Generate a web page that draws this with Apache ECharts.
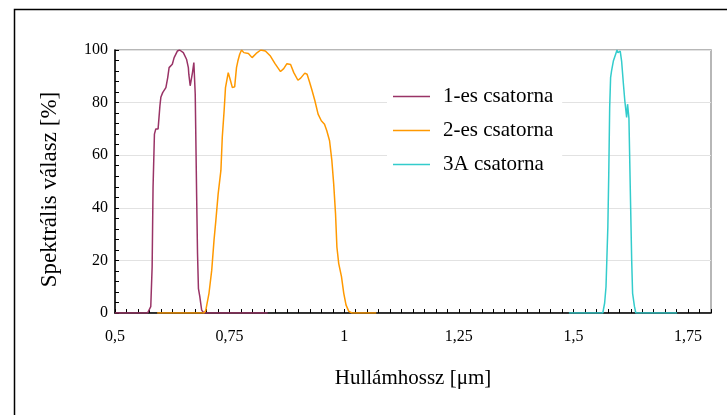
<!DOCTYPE html>
<html>
<head>
<meta charset="utf-8">
<script src="https://cdn.jsdelivr.net/npm/echarts@6/dist/echarts.min.js"></script>
<style>html,body{margin:0;padding:0;background:#fff}#c{width:727px;height:415px}</style>
</head>
<body>
<div id="c"></div>
<script>
// Channel 1 (1-es csatorna)
const ch1X = [0.5,0.571,0.578,0.581,0.583,0.586,0.589,0.594,0.596,0.598,0.600,0.604,0.611,0.615,0.618,0.625,0.629,0.636,0.641,0.649,0.656,0.660,0.661,0.664,0.667,0.669,0.672,0.674,0.675,0.678,0.680,0.682,0.685,0.689,0.694,0.833];
const ch1Y = [0,0,2.4,17.5,47.8,68,70,70,74.4,78.8,82,83.8,85.7,89.5,93.3,94.6,97.1,99.6,100,99,96.5,93.3,90.8,86.4,85.7,91.4,95.2,94.6,83.2,45.3,22.6,9.3,6.2,1.1,0,0];
// Channel 2 (2-es csatorna)
const ch2X = [0.592,0.694,0.698,0.705,0.711,0.716,0.720,0.725,0.731,0.734,0.738,0.741,0.747,0.752,0.756,0.761,0.765,0.768,0.772,0.776,0.781,0.791,0.799,0.808,0.818,0.828,0.839,0.849,0.861,0.868,0.875,0.883,0.890,0.899,0.905,0.914,0.919,0.924,0.930,0.936,0.943,0.950,0.957,0.962,0.968,0.973,0.977,0.981,0.984,0.988,0.994,0.999,1.004,1.010,1.017,1.07];
const ch2Y = [0,0,1,7.5,16.3,27.7,35.2,45.3,54.2,66.8,76.9,85.7,91.4,88.3,85.7,86,93.3,95.8,98.4,100,99,98.7,97.1,98.7,100,99.6,97.7,94.8,91.8,92.9,94.8,94.5,91.4,88.5,89.3,91.2,90.8,88,84.5,80.7,75.6,73.1,71.8,69.3,65.5,58,49.1,37.8,25.1,18.8,13.8,7.5,3,0.6,0,0];
// Channel 3 (3A csatorna)
const ch3X = [1.49,1.564,1.568,1.571,1.575,1.577,1.579,1.581,1.583,1.587,1.592,1.595,1.597,1.602,1.605,1.609,1.612,1.616,1.618,1.620,1.621,1.624,1.627,1.629,1.633,1.636,1.726];
const ch3Y = [0,0,3.8,10,32.7,52.9,78.1,89.5,92,95.8,98.4,100,99,99.6,95.8,87,80.7,74.4,79.4,79.4,74,46.6,20,7.5,2.5,0,0];

const seriesNames = ['1-es csatorna','2-es csatorna','3A csatorna'];
const seriesColors = ['#993366','#FF9900','#33CCCC'];
const xTickLabels = ['0,5','0,75','1','1,25','1,5','1,75'];
const xName = 'Hullámhossz [μm]';
const yName = 'Spektrális válasz [%]';

const zip = (xs, ys) => xs.map((x, i) => [x, ys[i]]);
const datasets = [zip(ch1X, ch1Y), zip(ch2X, ch2Y), zip(ch3X, ch3Y)];

const FONT = "'Liberation Serif', 'Times New Roman', serif";
const chart = echarts.init(document.getElementById('c'), null, {renderer: 'canvas'});
chart.setOption({
  animation: false,
  backgroundColor: '#fff',
  graphic: [{
    type: 'rect', left: 12, top: 7, silent: true, z: 100,
    shape: {x: 0, y: 0, width: 800, height: 500},
    style: {fill: 'none', stroke: '#000', lineWidth: 1.5}
  }],
  grid: {left: 115, right: 16, top: 50, bottom: 102, show: true, borderColor: '#a0a0a0', borderWidth: 1.5, backgroundColor: 'transparent'},
  legend: {
    orient: 'vertical', left: 387, top: 80,
    backgroundColor: '#fff', padding: [6, 9, 6, 6],
    icon: 'rect', itemWidth: 37, itemHeight: 1.5, itemGap: 13,
    data: seriesNames,
    textStyle: {fontFamily: FONT, fontSize: 21, color: '#000', lineHeight: 21, padding: [0, 0, 0, 8]}
  },
  xAxis: {
    type: 'value', min: 0.5, max: 1.8, interval: 0.025,
    name: xName, nameLocation: 'middle', nameGap: 55,
    nameTextStyle: {fontFamily: FONT, fontSize: 21, color: '#000'},
    axisLine: {show: true, lineStyle: {color: '#000', width: 1.5}},
    axisTick: {show: true, inside: true, length: 4, lineStyle: {color: '#000'}},
    splitLine: {show: false},
    axisLabel: {
      fontFamily: FONT, fontSize: 16, color: '#000', margin: 16, showMinLabel: true, showMaxLabel: true,
      formatter: function (v) {
        const k = Math.round((v - 0.5) / 0.25);
        if (Math.abs(v - (0.5 + k * 0.25)) < 1e-6 && k >= 0 && k < xTickLabels.length) return xTickLabels[k];
        return '';
      }
    }
  },
  yAxis: {
    type: 'value', min: 0, max: 100, interval: 20,
    name: yName, nameLocation: 'middle', nameGap: 54,
    nameTextStyle: {fontFamily: FONT, fontSize: 23, color: '#000', padding: [0, 16, 0, 0]},
    axisLine: {show: true, lineStyle: {color: '#000', width: 1.5}},
    axisTick: {show: true, inside: true, length: 4, lineStyle: {color: '#000'}},
    minorTick: {show: true, splitNumber: 5, length: 4, lineStyle: {color: '#000'}},
    splitLine: {show: true, lineStyle: {color: '#e2e2e2', width: 1}},
    axisLabel: {fontFamily: FONT, fontSize: 16, color: '#000', margin: 7}
  },
  series: seriesNames.map((n, i) => ({
    name: n, type: 'line', data: datasets[i], symbol: 'none', showSymbol: false,
    color: seriesColors[i], lineStyle: {color: seriesColors[i], width: 1.5}, z: 3
  }))
});
</script>
</body>
</html>
